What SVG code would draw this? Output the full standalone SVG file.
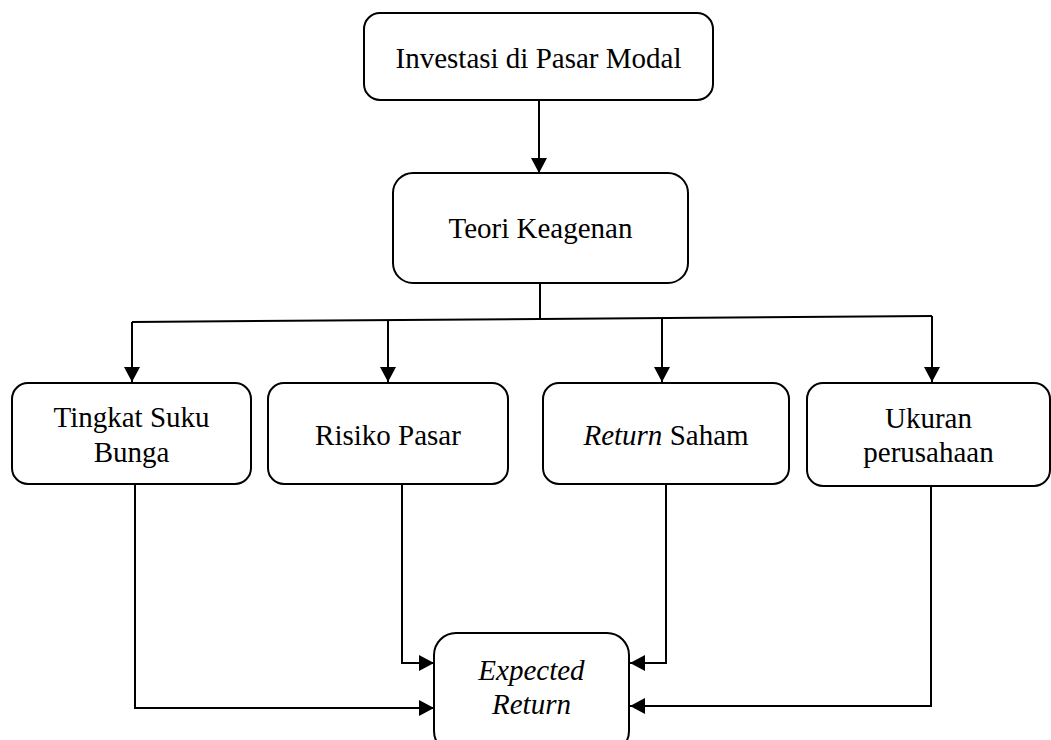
<svg xmlns="http://www.w3.org/2000/svg" width="1051" height="740" viewBox="0 0 1051 740">
<style>
.box{fill:#fff;stroke:#000;stroke-width:2}
.t{font-family:"Liberation Serif","Times New Roman",serif;font-size:29px;fill:#000;text-anchor:middle}
.i{font-style:italic}
.c{fill:none;stroke:#000;stroke-width:2}
</style>
<defs>
<marker id="ah" viewBox="0 0 15 16" refX="15" refY="8" markerWidth="15" markerHeight="16" markerUnits="userSpaceOnUse" orient="auto">
<path d="M0,0 L15,8 L0,16 Z" fill="#000"/>
</marker>
</defs>
<rect width="1051" height="740" fill="#fff"/>
<g id="connectors">
<line class="c" x1="539" y1="100" x2="539" y2="173" marker-end="url(#ah)"/>
<line class="c" x1="540" y1="283" x2="540" y2="319"/>
<line class="c" x1="132" y1="322" x2="932" y2="316"/>
<line class="c" x1="132" y1="322" x2="132" y2="382" marker-end="url(#ah)"/>
<line class="c" x1="388" y1="320" x2="388" y2="382" marker-end="url(#ah)"/>
<line class="c" x1="662" y1="318" x2="662" y2="382" marker-end="url(#ah)"/>
<line class="c" x1="932" y1="316" x2="932" y2="382" marker-end="url(#ah)"/>
<polyline class="c" points="135,484 135,708 434,708" marker-end="url(#ah)"/>
<polyline class="c" points="402,484 402,663 434,663" marker-end="url(#ah)"/>
<polyline class="c" points="666,484 666,663 630,663" marker-end="url(#ah)"/>
<polyline class="c" points="931,486 931,706 630,706" marker-end="url(#ah)"/>
</g>
<g id="n1">
<rect class="box" x="364" y="13" width="349" height="87" rx="16"/>
<text class="t" x="538.5" y="68">Investasi di Pasar Modal</text>
</g>
<g id="n2">
<rect class="box" x="393" y="173" width="295" height="110" rx="20"/>
<text class="t" x="540.5" y="238">Teori Keagenan</text>
</g>
<g id="n3">
<rect class="box" x="12" y="383" width="239" height="101" rx="16"/>
<text class="t" x="131.5" y="427">Tingkat Suku</text>
<text class="t" x="131.5" y="462">Bunga</text>
</g>
<g id="n4">
<rect class="box" x="268" y="383" width="240" height="101" rx="16"/>
<text class="t" x="388" y="445">Risiko Pasar</text>
</g>
<g id="n5">
<rect class="box" x="543" y="383" width="246" height="101" rx="16"/>
<text class="t" x="666" y="445"><tspan class="i">Return</tspan> Saham</text>
</g>
<g id="n6">
<rect class="box" x="807" y="383" width="243" height="103" rx="16"/>
<text class="t" x="928.5" y="428">Ukuran</text>
<text class="t" x="928.5" y="462">perusahaan</text>
</g>
<g id="n7">
<rect class="box" x="434" y="633" width="195" height="120" rx="22"/>
<text class="t i" x="531.5" y="680">Expected</text>
<text class="t i" x="531.5" y="714">Return</text>
</g>
</svg>
